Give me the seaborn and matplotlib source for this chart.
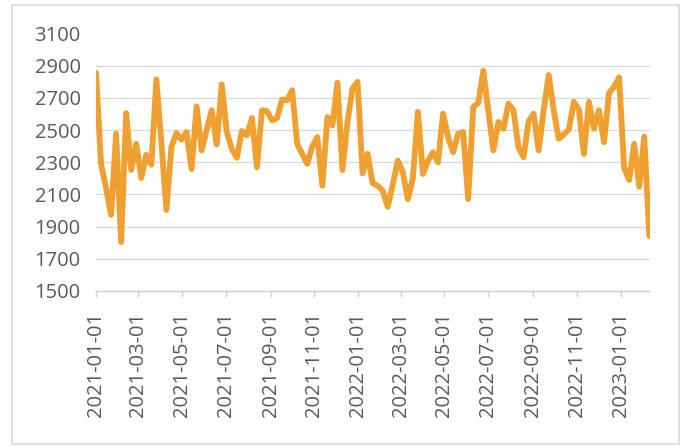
import matplotlib
matplotlib.use("Agg")
import matplotlib.pyplot as plt
import matplotlib.patches as mpatches
import seaborn as sns
import pandas as pd

# Weekly values
values = [2856, 2290, 2140, 1973, 2477, 1804, 2606, 2252, 2415, 2202,
          2346, 2285, 2815, 2420, 2004, 2398, 2481, 2440, 2488, 2258,
          2648, 2373, 2500, 2623, 2410, 2783, 2488, 2383, 2327, 2494,
          2467, 2575, 2269, 2623, 2617, 2560, 2575, 2690, 2685, 2748,
          2415, 2352, 2290, 2398, 2456, 2154, 2581, 2529, 2794, 2252,
          2550, 2758, 2800, 2231, 2352, 2169, 2154, 2123, 2023, 2160,
          2310, 2238, 2071, 2200, 2613, 2227, 2310, 2362, 2300, 2602,
          2456, 2362, 2477, 2488, 2071, 2644, 2669, 2869, 2620, 2373,
          2550, 2508, 2665, 2623, 2394, 2331, 2554, 2602, 2373, 2623,
          2842, 2623, 2446, 2473, 2502, 2675, 2627, 2352, 2675, 2508,
          2623, 2425, 2731, 2769, 2827, 2265, 2190, 2415, 2148, 2460,
          1842]
start_date = "2021-01-01"
x_labels = ["2021-01-01", "2021-03-01", "2021-05-01", "2021-07-01",
            "2021-09-01", "2021-11-01", "2022-01-01", "2022-03-01",
            "2022-05-01", "2022-07-01", "2022-09-01", "2022-11-01",
            "2023-01-01"]
y_ticks = [1500, 1700, 1900, 2100, 2300, 2500, 2700, 2900, 3100]

df = pd.DataFrame({
    "date": pd.date_range(start_date, periods=len(values), freq="7D"),
    "value": values,
})

sns.set_theme(style="white")
plt.rcParams["font.family"] = ["Open Sans", "DejaVu Sans"]

fig = plt.figure(figsize=(6.88, 4.47), dpi=100)
ax = fig.add_axes([96 / 688, 1 - 291 / 447, (650 - 96) / 688, (291 - 33.5) / 447])

sns.lineplot(data=df, x="date", y="value", color="#EFA030", linewidth=4.2, ax=ax)

ax.set_ylim(1500, 3100)
ax.set_yticks(y_ticks)
ax.set_xlim(pd.Timestamp(start_date), pd.Timestamp("2023-02-11"))
ax.set_xticks(pd.to_datetime(x_labels))
ax.set_xticklabels(x_labels, rotation=90)
ax.set_xlabel("")
ax.set_ylabel("")

ax.grid(axis="y", color="#d9d9d9", linewidth=1.0)
ax.grid(axis="x", visible=False)
ax.set_axisbelow(True)
for side in ["left", "top", "right"]:
    ax.spines[side].set_visible(False)
ax.spines["bottom"].set_color("#d0d0d0")
ax.spines["bottom"].set_linewidth(1.0)

ax.tick_params(axis="y", length=0, pad=11, labelsize=14.5, labelcolor="#595959")
ax.tick_params(axis="x", bottom=True, direction="out", length=4, width=1,
               color="#d0d0d0", pad=11, labelsize=14.5, labelcolor="#595959")

# light chart-area border
fig.add_artist(mpatches.Rectangle((12 / 688, 3 / 447), 667 / 688, 1 - 7.5 / 447,
                                  transform=fig.transFigure, fill=False,
                                  edgecolor="#d9d9d9", linewidth=1.2))

fig.savefig("out.png", dpi=100)
